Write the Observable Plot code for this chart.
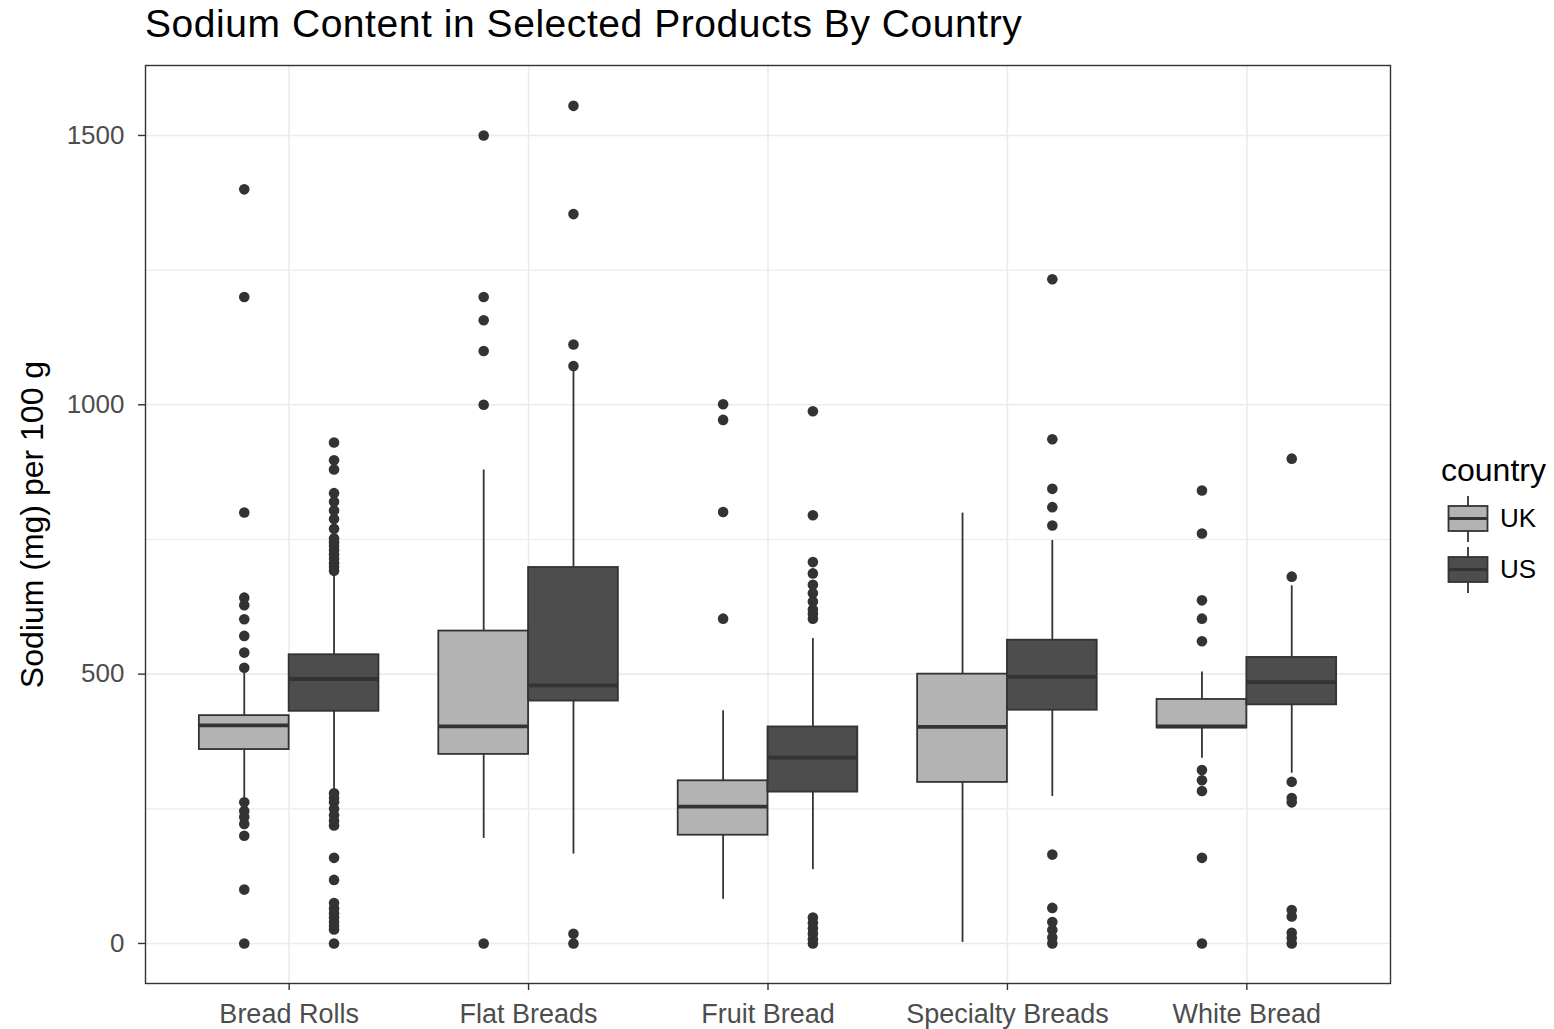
<!DOCTYPE html>
<html>
<head>
<meta charset="utf-8">
<script src="https://cdn.jsdelivr.net/npm/d3@7"></script>
<script src="https://cdn.jsdelivr.net/npm/@observablehq/plot@0.6"></script>
<style>
  body { margin: 0; background: #fff; }
  #wrap { position: relative; width: 1554px; height: 1029px; font-family: "Liberation Sans", Arial, sans-serif; background: #fff; overflow: hidden; }
  #title { position: absolute; left: 145px; top: 4px; font-size: 39px; line-height: 39px; letter-spacing: 0.55px; color: #000; white-space: nowrap; }
  #chart { position: absolute; left: 0; top: 55px; }
  .lg { position: absolute; white-space: nowrap; }
</style>
</head>
<body>
<div id="wrap">
  <div id="title">Sodium Content in Selected Products By Country</div>
  <div id="chart"></div>
  <div id="legend"></div>
</div>
<script>
// ---- Data ----
const categories = ["Bread Rolls", "Flat Breads", "Fruit Bread", "Specialty Breads", "White Bread"];
const countries = ["UK", "US"];
const countryColors = ["#b3b3b3", "#4d4d4d"];

const ukLow    = [270, 195,  82,   2, 344];
const ukQ1     = [360, 351, 201, 299, 400];
const ukMedian = [405, 403, 254, 402, 403];
const ukQ3     = [423, 580, 302, 500, 453];
const ukHigh   = [502, 879, 432, 799, 504];

const usLow    = [285, 166, 137, 273, 316];
const usQ1     = [431, 450, 281, 433, 443];
const usMedian = [491, 479, 345, 495, 485];
const usQ3     = [536, 698, 402, 563, 531];
const usHigh   = [687, 1064, 566, 748, 664];

const ukOutliers = [
  [0, 100, 200, 222, 235, 246, 262, 512, 540, 571, 602, 628, 642, 800, 1200, 1400],
  [0, 1000, 1100, 1157, 1200, 1500],
  [603, 801, 972, 1001],
  [],
  [0, 159, 283, 303, 322, 561, 603, 637, 761, 841]
];
const usOutliers = [
  [0, 26, 33, 40, 48, 56, 65, 75, 118, 159, 219, 228, 238, 250, 262, 270, 279,
   692, 699, 706, 714, 722, 730, 738, 745, 752, 770, 788, 804, 820, 836, 880, 897, 930],
  [0, 18, 1072, 1112, 1354, 1555],
  [0, 8, 18, 28, 38, 48, 603, 612, 620, 635, 650, 666, 687, 708, 795, 988],
  [0, 11, 25, 40, 66, 165, 776, 810, 844, 936, 1233],
  [0, 10, 20, 50, 62, 262, 270, 300, 681, 900]
];

const yMajor = [0, 500, 1000, 1500];
const yMinor = [250, 750, 1250];
const yDomain = [-74.3, 1629.9];

// ---- Build tables ----
const dodge = 0.1875;   // half of a dodged box width (in category units)
const stats = {
  UK: {low: ukLow, q1: ukQ1, median: ukMedian, q3: ukQ3, high: ukHigh, out: ukOutliers},
  US: {low: usLow, q1: usQ1, median: usMedian, q3: usQ3, high: usHigh, out: usOutliers}
};
const boxes = [];
const points = [];
categories.forEach((cat, i) => {
  countries.forEach((c, j) => {
    const s = stats[c];
    const xc = i + 1 + (j === 0 ? -dodge : dodge);
    boxes.push({category: cat, country: c, xc, low: s.low[i], q1: s.q1[i], median: s.median[i], q3: s.q3[i], high: s.high[i]});
    s.out[i].forEach(v => points.push({category: cat, country: c, xc, value: v}));
  });
});
const catIndex = categories.map((_, i) => i + 1);

const ink = "#333333";
const chart = Plot.plot({
  width: 1554,
  height: 974,
  marginLeft: 145,
  marginRight: 164,
  marginTop: 10,
  marginBottom: 46,
  style: {fontFamily: "'Liberation Sans', Arial, sans-serif", background: "#fff", color: "#000"},
  x: {type: "linear", domain: [0.4, categories.length + 0.6], axis: null},
  y: {domain: yDomain, axis: null},
  color: {domain: countries, range: countryColors},
  marks: [
    Plot.ruleY(yMinor, {stroke: "#ebebeb", strokeWidth: 1.2}),
    Plot.ruleY(yMajor, {stroke: "#ebebeb", strokeWidth: 1.6}),
    Plot.ruleX(catIndex, {stroke: "#ebebeb", strokeWidth: 1.6}),
    Plot.ruleX(boxes, {x: "xc", y1: "low", y2: "q1", stroke: ink, strokeWidth: 1.8}),
    Plot.ruleX(boxes, {x: "xc", y1: "q3", y2: "high", stroke: ink, strokeWidth: 1.8}),
    Plot.rect(boxes, {x1: d => d.xc - dodge, x2: d => d.xc + dodge, y1: "q1", y2: "q3", fill: "country", stroke: ink, strokeWidth: 1.8}),
    Plot.ruleY(boxes, {y: "median", x1: d => d.xc - dodge, x2: d => d.xc + dodge, stroke: ink, strokeWidth: 3.8}),
    Plot.dot(points, {x: "xc", y: "value", r: 5.3, fill: ink, stroke: null}),
    Plot.frame({stroke: ink, strokeWidth: 1.4}),
    Plot.axisX({ticks: catIndex, tickFormat: i => categories[i - 1], tickSize: 7, tickPadding: 13,
                fontSize: 27, stroke: ink, fill: "#4d4d4d", strokeWidth: 1.4, label: null,
                style: {letterSpacing: "0.35px"}}),
    Plot.axisY({ticks: yMajor, tickFormat: d => String(d), tickSize: 7, tickPadding: 14,
                fontSize: 26, stroke: ink, fill: "#4d4d4d", strokeWidth: 1.4, label: null}),
    Plot.text(["Sodium (mg) per 100 g"], {text: d => d, frameAnchor: "left", rotate: -90, dx: -103,
                textAnchor: "middle", lineAnchor: "bottom", fontSize: 32, fill: "#000"})
  ]
});
document.getElementById("chart").appendChild(chart);

// ---- Legend (HTML, right side) ----
const legend = document.getElementById("legend");
const lt = document.createElement("div");
lt.className = "lg";
lt.style.cssText = "left:1441px;top:452px;font-size:32px;line-height:36px;color:#000;";
lt.textContent = "country";
legend.appendChild(lt);
countries.forEach((c, j) => {
  const top = 495 + j * 51;
  const key = document.createElementNS("http://www.w3.org/2000/svg", "svg");
  key.setAttribute("width", 42);
  key.setAttribute("height", 48);
  key.style.cssText = `position:absolute;left:1447px;top:${top}px;`;
  key.innerHTML = `<line x1="21" x2="21" y1="1" y2="47" stroke="${ink}" stroke-width="1.8"/>
    <rect x="1.5" y="11" width="39" height="25" fill="${countryColors[j]}" stroke="${ink}" stroke-width="1.8"/>
    <line x1="1.5" x2="40.5" y1="23.5" y2="23.5" stroke="${ink}" stroke-width="3"/>`;
  legend.appendChild(key);
  const lab = document.createElement("div");
  lab.className = "lg";
  lab.style.cssText = `left:1500px;top:${top + 8}px;font-size:26px;line-height:30px;color:#000;`;
  lab.textContent = c;
  legend.appendChild(lab);
});
</script>
</body>
</html>
